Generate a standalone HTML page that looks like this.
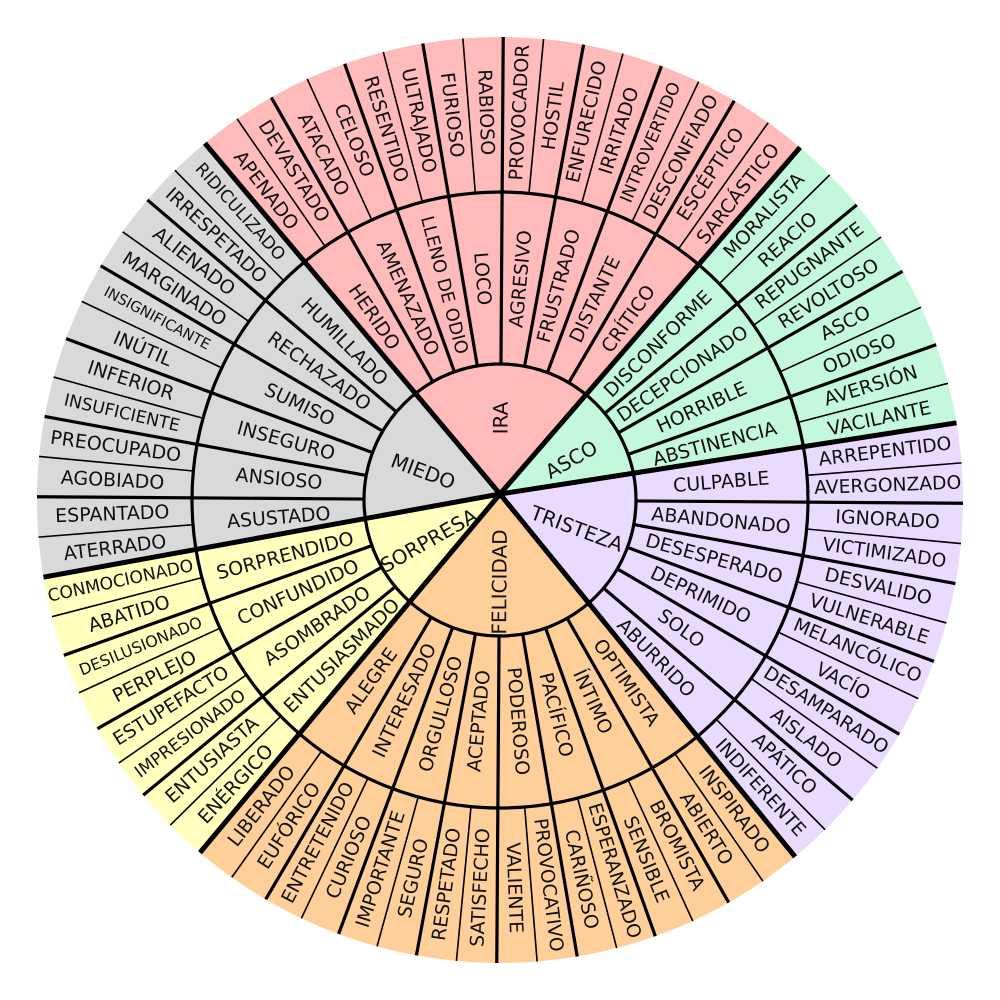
<!DOCTYPE html>
<html><head><meta charset="utf-8"><style>
html,body{margin:0;padding:0;background:#fff;width:1000px;height:1000px;overflow:hidden}
svg text{font-family:"DejaVu Sans","Liberation Sans",sans-serif;fill:#111}
</style></head><body>
<svg id="w" width="1000" height="1000" viewBox="0 0 1000 1000" xmlns="http://www.w3.org/2000/svg"></svg>
<script>
var S=[
 {c:"#c4f8dc",n:"ASCO",m:["ABSTINENCIA","HORRIBLE","DECEPCIONADO","DISCONFORME"],o:["VACILANTE","AVERSIÓN","ODIOSO","ASCO","REVOLTOSO","REPUGNANTE","REACIO","MORALISTA"]},
 {c:"#ffbaba",n:"IRA",m:["CRÍTICO","DISTANTE","FRUSTRADO","AGRESIVO","LOCO","LLENO DE ODIO","AMENAZADO","HERIDO"],o:["SARCÁSTICO","ESCÉPTICO","DESCONFIADO","INTROVERTIDO","IRRITADO","ENFURECIDO","HOSTIL","PROVOCADOR","RABIOSO","FURIOSO","ULTRAJADO","RESENTIDO","CELOSO","ATACADO","DEVASTADO","APENADO"]},
 {c:"#d9d9d9",n:"MIEDO",m:["HUMILLADO","RECHAZADO","SUMISO","INSEGURO","ANSIOSO","ASUSTADO"],o:["RIDICULIZADO","IRRESPETADO","ALIENADO","MARGINADO","INSIGNIFICANTE","INÚTIL","INFERIOR","INSUFICIENTE","PREOCUPADO","AGOBIADO","ESPANTADO","ATERRADO"]},
 {c:"#ffffbe",n:"SORPRESA",m:["SORPRENDIDO","CONFUNDIDO","ASOMBRADO","ENTUSIASMADO"],o:["CONMOCIONADO","ABATIDO","DESILUSIONADO","PERPLEJO","ESTUPEFACTO","IMPRESIONADO","ENTUSIASTA","ENÉRGICO"]},
 {c:"#ffcf99",n:"FELICIDAD",m:["ALEGRE","INTERESADO","ORGULLOSO","ACEPTADO","PODEROSO","PACÍFICO","ÍNTIMO","OPTIMISTA"],o:["LIBERADO","EUFÓRICO","ENTRETENIDO","CURIOSO","IMPORTANTE","SEGURO","RESPETADO","SATISFECHO","VALIENTE","PROVOCATIVO","CARIÑOSO","ESPERANZADO","SENSIBLE","BROMISTA","ABIERTO","INSPIRADO"]},
 {c:"#e8dbff",n:"TRISTEZA",m:["ABURRIDO","SOLO","DEPRIMIDO","DESESPERADO","ABANDONADO","CULPABLE"],o:["INDIFERENTE","APÁTICO","AISLADO","DESAMPARADO","VACÍO","MELANCÓLICO","VULNERABLE","DESVALIDO","VICTIMIZADO","IGNORADO","AVERGONZADO","ARREPENTIDO"]}
];
var cx=500,cy=500,ax=500,ay=494,R=463,R2=308,R1=136,B0=9.6,D=5;
var svg=document.getElementById('w'),h='';
function P(r,a){var t=a*Math.PI/180;return [cx+r*Math.cos(t),cy-r*Math.sin(t)];}
function f(v){return v.toFixed(2);}
function line(a,r0,r1,w,apex){var p=apex?[ax,ay]:P(r0,a),q=P(r1,a);h+='<line x1="'+f(p[0])+'" y1="'+f(p[1])+'" x2="'+f(q[0])+'" y2="'+f(q[1])+'" stroke="#000" stroke-width="'+w+'"/>';}
function txt(s,r,a,fs){var p=P(r,a);var rot=Math.cos(a*Math.PI/180)>=-0.001?-a:180-a;
 h+='<text x="'+f(p[0])+'" y="'+f(p[1])+'" font-size="'+f(fs)+'" text-anchor="middle" dominant-baseline="central" transform="rotate('+f(rot)+' '+f(p[0])+' '+f(p[1])+')">'+s+'</text>';}
function fit(s,base,max){var w=s.length*0.69*base;return w>max?base*max/w:base;}
var a=B0;
S.forEach(function(s){
 var n=s.o.length,a0=a,a1=a+n*D;
 var p0=P(R,a0),p1=P(R,a1);
 h+='<path d="M'+ax+','+ay+' L'+f(p0[0])+','+f(p0[1])+' A'+R+','+R+' 0 '+((a1-a0)>180?1:0)+' 0 '+f(p1[0])+','+f(p1[1])+' Z" fill="'+s.c+'"/>';
 s.a0=a0;s.a1=a1;a=a1;
});
S.forEach(function(s){
 for(var i=1;i<s.o.length;i++){ if(i%2) line(s.a0+i*D,R2,R,1.6); else line(s.a0+i*D,R1,R,3.2);}
});
h+='<circle cx="'+cx+'" cy="'+cy+'" r="'+R2+'" fill="none" stroke="#000" stroke-width="3.2"/>';
h+='<circle cx="'+cx+'" cy="'+cy+'" r="'+R1+'" fill="none" stroke="#000" stroke-width="3.2"/>';
S.forEach(function(s){line(s.a0,0,R,5,true);});
S.forEach(function(s){
 s.o.forEach(function(t,i){txt(t,388,s.a0+(i+0.5)*D,fit(t,19,142));});
 s.m.forEach(function(t,i){txt(t,222,s.a0+(i+1)*D*2-D,fit(t,19,160));});
 txt(s.n,82,(s.a0+s.a1)/2,20);
});
svg.innerHTML=h;
</script>
</body></html>
